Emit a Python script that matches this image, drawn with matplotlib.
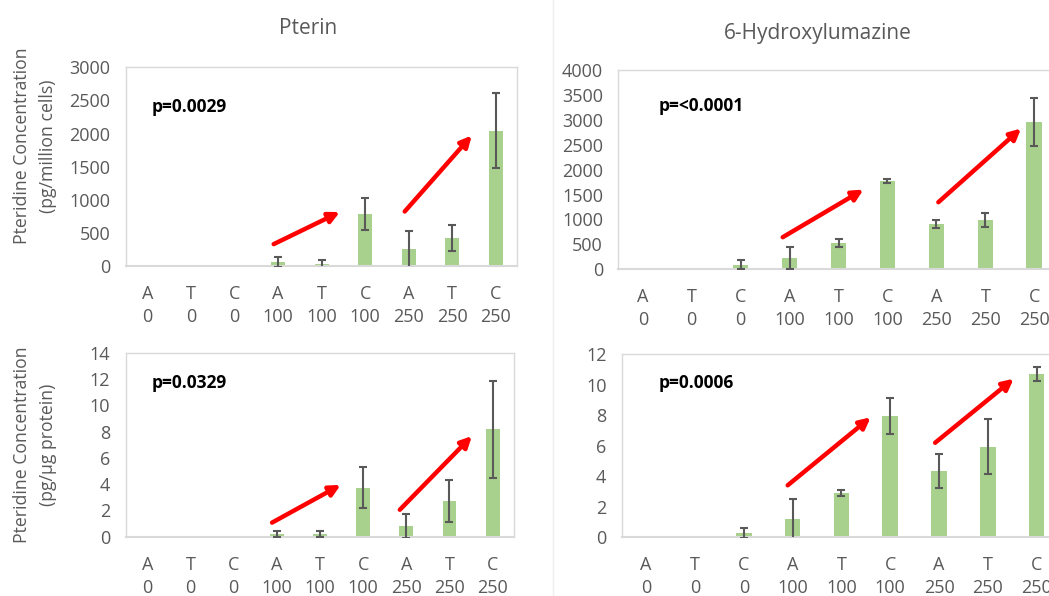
import matplotlib
matplotlib.use("Agg")
import matplotlib.pyplot as plt
import numpy as np

plt.rcParams['font.family'] = ['Open Sans', 'DejaVu Sans']

# Category labels (treatment / dose)
treatments = ["A", "T", "C", "A", "T", "C", "A", "T", "C"]
doses = ["0", "0", "0", "100", "100", "100", "250", "250", "250"]
tick_labels = [f"{t}\n{d}" for t, d in zip(treatments, doses)]

# Pterin, pg / million cells
pterin_cells = [0, 0, 0, 60, 30, 790, 250, 425, 2040]
pterin_cells_err = [0, 0, 0, 75, 55, 240, 280, 200, 565]

# 6-Hydroxylumazine, pg / million cells
hlum_cells = [0, 0, 90, 220, 525, 1775, 905, 990, 2965]
hlum_cells_err = [0, 0, 100, 225, 80, 38, 87, 145, 485]

# Pterin, pg / ug protein
pterin_prot = [0, 0, 0, 0.2, 0.2, 3.72, 0.84, 2.74, 8.18]
pterin_prot_err = [0, 0, 0, 0.26, 0.26, 1.55, 0.92, 1.6, 3.7]

# 6-Hydroxylumazine, pg / ug protein
hlum_prot = [0, 0, 0.25, 1.2, 2.87, 7.93, 4.33, 5.92, 10.71]
hlum_prot_err = [0, 0, 0.33, 1.3, 0.2, 1.18, 1.13, 1.8, 0.45]

# p-values
p_labels = ["p=0.0029", "p=<0.0001", "p=0.0329", "p=0.0006"]

# Trend arrows: (x0, y0, x1, y1) in data units
arrows_tl = [(2.9, 330, 4.42, 815), (5.91, 823, 7.45, 1970)]
arrows_tr = [(2.86, 640, 4.51, 1600), (6.04, 1345, 7.73, 2830)]
arrows_bl = [(2.89, 1.07, 4.48, 3.94), (5.85, 2.05, 7.52, 7.66)]
arrows_br = [(2.9, 3.39, 4.6, 7.85), (5.92, 6.18, 7.53, 10.38)]

BAR = "#a9d18e"
ERR = "#595959"
TXT = "#595959"
FRAME = "#d9d9d9"

fig = plt.figure(figsize=(10.49, 5.96), dpi=100)

panels = [
    ([0.1198, 0.5537, 0.3735, 0.3334], pterin_cells, pterin_cells_err, (0, 3000), 500, p_labels[0], arrows_tl, 0.066, 0.80),
    ([0.5894, 0.5487, 0.4199, 0.3331], hlum_cells, hlum_cells_err, (0, 4000), 500, p_labels[1], arrows_tr, 0.092, 0.82),
    ([0.1198, 0.0995, 0.3704, 0.3087], pterin_prot, pterin_prot_err, (0, 14), 2, p_labels[2], arrows_bl, 0.067, 0.834),
    ([0.5927, 0.0990, 0.4188, 0.3070], hlum_prot, hlum_prot_err, (0, 12), 2, p_labels[3], arrows_br, 0.084, 0.84),
]

for rect, vals, errs, ylim, step, ptxt, arrs, px, py in panels:
    ax = fig.add_axes(rect)
    x = np.arange(len(vals))
    v = np.asarray(vals, dtype=float)
    e = np.asarray(errs, dtype=float)
    ax.bar(x, v, width=0.32, color=BAR, zorder=2)
    has = e > 0
    ax.errorbar(x[has], v[has], yerr=e[has], fmt="none", ecolor=ERR,
                elinewidth=1.5, capsize=3, capthick=1.5, zorder=3)
    ax.set_xlim(-0.5, 8.5)
    ax.set_ylim(*ylim)
    ax.set_yticks(np.arange(ylim[0], ylim[1] + step / 2, step))
    ax.set_xticks(x)
    ax.set_xticklabels(tick_labels, linespacing=1.35)
    ax.tick_params(axis="x", length=0, pad=14, labelsize=13, labelcolor=TXT)
    ax.tick_params(axis="y", length=0, pad=11, labelsize=13, labelcolor=TXT)
    for s in ax.spines.values():
        s.set_color(FRAME)
        s.set_linewidth(1.0)
    ax.spines["bottom"].set_linewidth(1.5)
    ax.text(px, py, ptxt, transform=ax.transAxes, fontsize=12.5,
            fontweight="bold", color="black", va="center", ha="left")
    for x0, y0, x1, y1 in arrs:
        ax.annotate("", xy=(x1, y1), xytext=(x0, y0),
                    arrowprops=dict(arrowstyle="-|>", color="#ff0000", lw=3.2,
                                    mutation_scale=16, shrinkA=0, shrinkB=0),
                    zorder=4)

fig.text(308 / 1049, 1 - 29 / 596, "Pterin", fontsize=15, color=TXT,
         ha="center", va="center")
fig.text(818 / 1049, 1 - 33 / 596, "6-Hydroxylumazine", fontsize=15,
         color=TXT, ha="center", va="center")

fig.text(35 / 1049, 1 - 146 / 596, "Pteridine Concentration\n(pg/million cells)",
         rotation=90, fontsize=12.7, color=TXT, ha="center", va="center",
         multialignment="center", linespacing=1.55)
fig.text(35 / 1049, 1 - 445 / 596, "Pteridine Concentration\n(pg/\u00b5g protein)",
         rotation=90, fontsize=12.7, color=TXT, ha="center", va="center",
         multialignment="center", linespacing=1.55)

# faint divider between the two chart columns
fig.add_artist(plt.Line2D([553 / 1049, 553 / 1049], [0, 1], color="#efefef",
                          lw=1.0, transform=fig.transFigure))

fig.savefig("out.png", dpi=100)
